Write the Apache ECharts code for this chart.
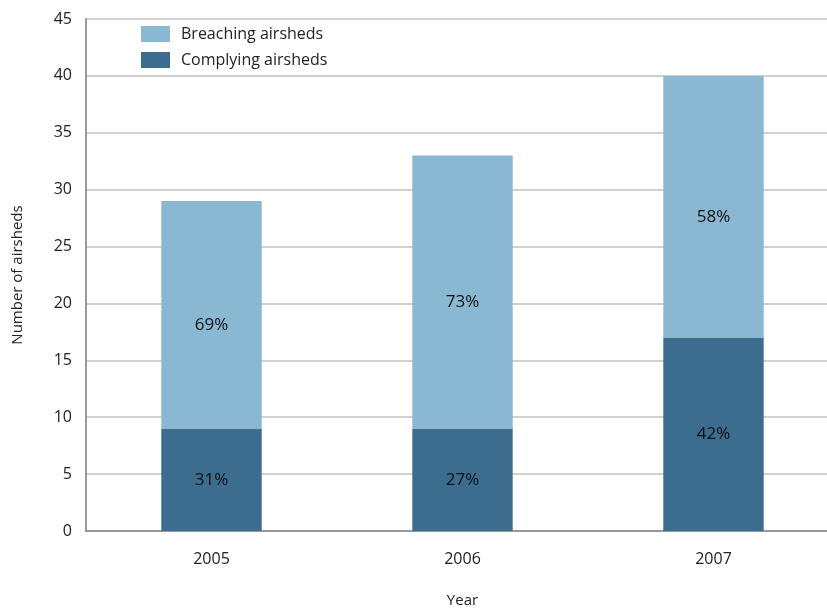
<!DOCTYPE html>
<html>
<head>
<meta charset="utf-8">
<script src="https://cdn.jsdelivr.net/npm/echarts@6/dist/echarts.min.js"></script>
<style>
  html, body { margin: 0; padding: 0; background: #fff; }
  #chart { width: 827px; height: 610px; }
</style>
</head>
<body>
<div id="chart"></div>
<script>
// Airsheds per year, split into complying and breaching
const years = ['2005', '2006', '2007'];
const complying = [9, 9, 17];
const breaching = [20, 24, 23];
const complyingPct = ['31%', '27%', '42%'];
const breachingPct = ['69%', '73%', '58%'];
const yTicks = [0, 5, 10, 15, 20, 25, 30, 35, 40, 45];

const font = '"Open Sans", "Noto Sans", sans-serif';
const chart = echarts.init(document.getElementById('chart'));

chart.setOption({
  animation: false,
  textStyle: { fontFamily: font },
  grid: {
    left: 86, top: 19, width: 753, bottom: 79,
    containLabel: false,
    outerBoundsMode: 'none'
  },
  legend: {
    orient: 'vertical',
    left: 136,
    top: 21,
    itemWidth: 29,
    itemHeight: 16,
    itemGap: 10,
    icon: 'rect',
    selectedMode: false,
    textStyle: { fontFamily: font, fontSize: 16, color: '#222', padding: [0, 0, 0, 6] },
    data: ['Breaching airsheds', 'Complying airsheds']
  },
  xAxis: {
    type: 'category',
    data: years,
    name: 'Year',
    nameLocation: 'middle',
    nameGap: 62,
    nameTextStyle: { fontFamily: font, fontSize: 15, color: '#222' },
    axisLine: { lineStyle: { color: '#999', width: 2 } },
    axisTick: { show: false },
    axisLabel: { fontFamily: font, fontSize: 16, color: '#222', margin: 20 }
  },
  yAxis: {
    type: 'value',
    min: yTicks[0],
    max: yTicks[yTicks.length - 1],
    interval: 5,
    name: 'Number of airsheds',
    nameLocation: 'middle',
    nameGap: 61,
    nameTextStyle: { fontFamily: font, fontSize: 15, color: '#222' },
    axisLine: { show: true, lineStyle: { color: '#999', width: 2 } },
    axisTick: { show: false },
    axisLabel: { fontFamily: font, fontSize: 16, color: '#222', margin: 14 },
    splitLine: { lineStyle: { color: '#d0d0d0', width: 2 } }
  },
  series: [
    {
      name: 'Complying airsheds',
      type: 'bar',
      stack: 'total',
      barWidth: '40%',
      data: complying,
      itemStyle: { color: '#3c6d8e' },
      label: {
        show: true,
        position: 'inside',
        fontFamily: font,
        fontSize: 17,
        color: '#111',
        formatter: p => complyingPct[p.dataIndex]
      }
    },
    {
      name: 'Breaching airsheds',
      type: 'bar',
      stack: 'total',
      barWidth: '40%',
      data: breaching,
      itemStyle: { color: '#8ab7d2' },
      label: {
        show: true,
        position: 'inside',
        offset: [0, 10],
        fontFamily: font,
        fontSize: 17,
        color: '#111',
        formatter: p => breachingPct[p.dataIndex]
      }
    }
  ]
});
</script>
</body>
</html>
